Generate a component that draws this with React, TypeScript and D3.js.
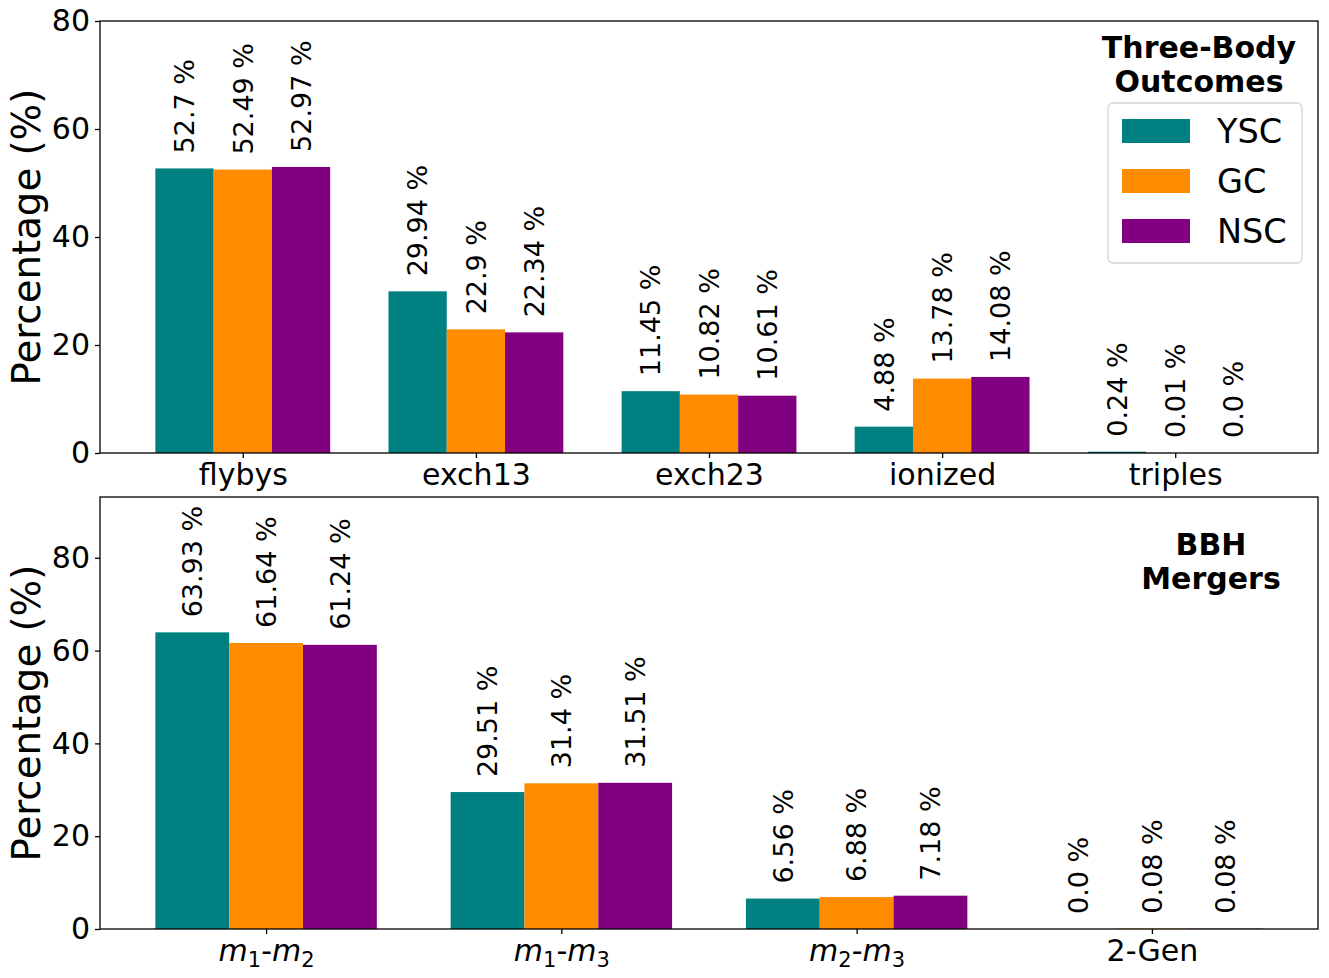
import * as d3 from "d3";
import React, { useEffect, useRef } from "react";

const outcomeCats = ["flybys", "exch13", "exch23", "ionized", "triples"];
const outcomeYSC = [52.7, 29.94, 11.45, 4.88, 0.24];
const outcomeGC = [52.49, 22.9, 10.82, 13.78, 0.01];
const outcomeNSC = [52.97, 22.34, 10.61, 14.08, 0.0];

// [mass index a, mass index b] for m_a-m_b labels; null = plain text
const mergerCats = ["m1-m2", "m1-m3", "m2-m3", "2-Gen"];
const mergerSubs: ([string, string] | null)[] = [["1", "2"], ["1", "3"], ["2", "3"], null];
const mergerYSC = [63.93, 29.51, 6.56, 0.0];
const mergerGC = [61.64, 31.4, 6.88, 0.08];
const mergerNSC = [61.24, 31.51, 7.18, 0.08];

const seriesNames = ["YSC", "GC", "NSC"];
const yTicks = [0, 20, 40, 60, 80];

const colors = ["#008080", "#ff8c00", "#800080"];
const FONT = "DejaVu Sans, sans-serif";
const W = 1329;
const H = 978;

const fmt = (v: number) => (Number.isInteger(v) ? v.toFixed(1) : String(v)) + " %";

type Panel = {
  top: number;
  bottom: number;
  yMax: number;
  cats: string[];
  series: number[][];
  title: string[];
  titleX: number;
  titleY: number;
  subs?: ([string, string] | null)[];
};

export default function App() {
  const svgRef = useRef<SVGSVGElement | null>(null);

  useEffect(() => {
    const svg = d3.select(svgRef.current);
    svg.selectAll("*").remove();

    const left = 100;
    const right = 1318;

    const panels: Panel[] = [
      {
        top: 21,
        bottom: 453,
        yMax: 80,
        cats: outcomeCats,
        series: [outcomeYSC, outcomeGC, outcomeNSC],
        title: ["Three-Body", "Outcomes"],
        titleX: 1199,
        titleY: 58,
      },
      {
        top: 497,
        bottom: 929,
        yMax: 93.1,
        cats: mergerCats,
        series: [mergerYSC, mergerGC, mergerNSC],
        title: ["BBH", "Mergers"],
        titleX: 1211,
        titleY: 555,
        subs: mergerSubs,
      },
    ];

    panels.forEach((p, pi) => {
      const n = p.cats.length;
      const barW = 0.25;
      const pad = (n - 1 + 0.75) * 0.05;
      const x = d3
        .scaleLinear()
        .domain([-0.375 - pad, n - 1 + 0.375 + pad])
        .range([left, right]);
      const y = d3.scaleLinear().domain([0, p.yMax]).range([p.bottom, p.top]);

      const g = svg.append("g");

      // bars + value labels
      p.series.forEach((vals, j) => {
        g.selectAll(null)
          .data(vals)
          .enter()
          .append("rect")
          .attr("x", (_d, i) => x(i + (j - 1) * barW - barW / 2))
          .attr("width", x(barW) - x(0))
          .attr("y", (d) => y(d))
          .attr("height", (d) => y(0) - y(d))
          .attr("fill", colors[j]);

        g.selectAll(null)
          .data(vals)
          .enter()
          .append("text")
          .attr("transform", (d, i) => `translate(${x(i + (j - 1) * barW)},${y(d) - 15}) rotate(-90)`)
          .attr("dy", "0.36em")
          .attr("font-family", FONT)
          .attr("font-size", 27)
          .attr("fill", "#000")
          .text((d) => fmt(d));
      });

      // y axis
      const yAxis = d3
        .axisLeft(y)
        .tickValues(yTicks)
        .tickSize(5)
        .tickSizeOuter(0)
        .tickPadding(5)
        .tickFormat((d) => String(d));
      const ya = g.append("g").attr("transform", `translate(${left},0)`).call(yAxis);
      ya.select(".domain").remove();
      ya.selectAll("line").attr("stroke", "#000").attr("stroke-width", 1.3);
      ya.selectAll("text").attr("font-family", FONT).attr("font-size", 30).attr("fill", "#000");

      // x axis
      const xAxis = d3
        .axisBottom(x)
        .tickValues(d3.range(n))
        .tickSize(5)
        .tickSizeOuter(0)
        .tickPadding(6)
        .tickFormat((d) => p.cats[+d]);
      const xa = g.append("g").attr("transform", `translate(0,${p.bottom})`).call(xAxis);
      xa.select(".domain").remove();
      xa.selectAll("line").attr("stroke", "#000").attr("stroke-width", 1.3);
      xa.selectAll("text").attr("font-family", FONT).attr("font-size", 30).attr("fill", "#000");

      if (p.subs) {
        xa.selectAll<SVGTextElement, number>("text").each(function (d) {
          const s = p.subs![d];
          if (!s) return;
          const t = d3.select(this);
          t.text(null);
          t.append("tspan").attr("font-style", "italic").text("m");
          t.append("tspan").attr("font-size", 21).attr("dy", 6).text(s[0]);
          t.append("tspan").attr("dy", -6).text("-");
          t.append("tspan").attr("font-style", "italic").text("m");
          t.append("tspan").attr("font-size", 21).attr("dy", 6).text(s[1]);
        });
      }

      // frame
      g.append("rect")
        .attr("x", left)
        .attr("y", p.top)
        .attr("width", right - left)
        .attr("height", p.bottom - p.top)
        .attr("fill", "none")
        .attr("stroke", "#000")
        .attr("stroke-width", 1.3);

      // y label
      g.append("text")
        .attr("transform", `translate(40,${(p.top + p.bottom) / 2}) rotate(-90)`)
        .attr("text-anchor", "middle")
        .attr("font-family", FONT)
        .attr("font-size", 38.7)
        .attr("fill", "#000")
        .text("Percentage (%)");

      // panel title
      p.title.forEach((line, li) => {
        g.append("text")
          .attr("x", p.titleX)
          .attr("y", p.titleY + li * 33.5)
          .attr("text-anchor", "middle")
          .attr("font-family", FONT)
          .attr("font-weight", "bold")
          .attr("font-size", 30)
          .attr("fill", "#000")
          .text(line);
      });

      // legend only on the first panel
      if (pi === 0) {
        const lg = g.append("g");
        lg.append("rect")
          .attr("x", 1108)
          .attr("y", 103)
          .attr("width", 194)
          .attr("height", 160)
          .attr("rx", 5)
          .attr("fill", "#fff")
          .attr("fill-opacity", 0.8)
          .attr("stroke", "#d6d6d6")
          .attr("stroke-width", 1.3);
        seriesNames.forEach((name, j) => {
          lg.append("rect")
            .attr("x", 1122)
            .attr("y", 119 + j * 50)
            .attr("width", 68)
            .attr("height", 24)
            .attr("fill", colors[j]);
          lg.append("text")
            .attr("x", 1217)
            .attr("y", 143 + j * 50)
            .attr("font-family", FONT)
            .attr("font-size", 33.5)
            .attr("fill", "#000")
            .text(name);
        });
      }
    });
  }, []);

  return (
    <svg
      ref={svgRef}
      width={W}
      height={H}
      style={{ position: "absolute", left: 0, top: 0, background: "#fff" }}
    />
  );
}
